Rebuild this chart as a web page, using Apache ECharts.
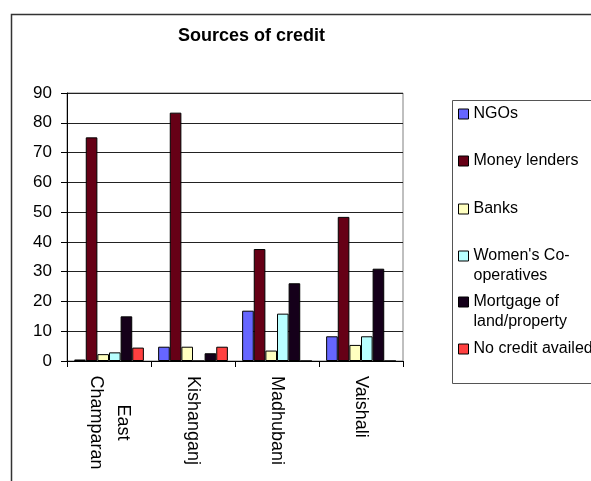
<!DOCTYPE html>
<html>
<head>
<meta charset="utf-8">
<script src="https://cdn.jsdelivr.net/npm/echarts@6/dist/echarts.min.js"></script>
<style>
  html, body { margin: 0; padding: 0; background: #fff; }
  #chart { width: 591px; height: 481px; }
</style>
</head>
<body>
<div id="chart"></div>
<script>
// Districts on the category axis
const categories = ['East Champaran', 'Kishanganj', 'Madhubani', 'Vaishali'];

// Share of households (%) by source of credit
const ngos = [0.5, 4.8, 16.9, 8.3];
const moneyLenders = [75.1, 83.4, 37.6, 48.4];
const banks = [2.3, 4.8, 3.5, 5.4];
const womensCoops = [2.9, 0, 15.9, 8.3];
const mortgage = [15.0, 2.6, 26.1, 31.0];
const noCredit = [4.5, 4.8, 0, 0];

const seriesNames = ['NGOs', 'Money lenders', 'Banks', "Women's Co-operatives", 'Mortgage of land/property', 'No credit availed'];
// Two-line entries get a blank leading line so the icon sits beside the first line of text
const legendLabels = ['NGOs', 'Money lenders', 'Banks', "\nWomen's Co-\noperatives", '\nMortgage of\nland/property', 'No credit availed'];
const seriesData = [ngos, moneyLenders, banks, womensCoops, mortgage, noCredit];
const colors = ['#6666FF', '#660016', '#FFFFC0', '#B8FFFF', '#15001A', '#FF4040'];

const FONT = '"Liberation Sans", Arial, sans-serif';

// One legend block per entry, stacked down the legend box
const legendTops = [104, 151, 199, 226, 272, 339];
const legends = seriesNames.map((name, i) => ({
  data: [name],
  left: 458,
  top: legendTops[i],
  padding: 0,
  orient: 'vertical',
  itemWidth: 10,
  itemHeight: 10,
  icon: 'rect',
  selectedMode: false,
  formatter: () => legendLabels[i],
  itemStyle: { borderColor: '#000', borderWidth: 1 },
  textStyle: {
    fontFamily: FONT,
    fontSize: 16,
    color: '#000',
    lineHeight: 20
  }
}));

const chart = echarts.init(document.getElementById('chart'), null, { renderer: 'canvas' });

chart.setOption({
  backgroundColor: '#fff',
  animation: false,
  title: {
    text: 'Sources of credit',
    left: 178,
    top: 27,
    padding: 0,
    textStyle: { fontFamily: FONT, fontSize: 18, fontWeight: 'bold', color: '#000' }
  },
  legend: legends,
  grid: {
    left: 67,
    top: 93,
    width: 336,
    height: 268,
    show: true,
    borderColor: '#808080',
    borderWidth: 1,
    backgroundColor: 'transparent'
  },
  xAxis: {
    type: 'category',
    data: categories,
    boundaryGap: true,
    axisLine: { lineStyle: { color: '#000', width: 1 } },
    axisTick: { show: true, length: 6, alignWithLabel: false, lineStyle: { color: '#000' } },
    axisLabel: {
      rotate: -90,
      margin: 15,
      interval: 0,
      fontFamily: FONT,
      fontSize: 18,
      color: '#000',
      formatter: (v) => {
        const parts = v.split(' ');
        if (parts.length > 1) {
          return parts.map(p => '{c|' + p + '}').join('\n');
        }
        return v;
      },
      rich: {
        c: { width: 93, align: 'center', fontFamily: FONT, fontSize: 18, color: '#000', lineHeight: 27 }
      }
    }
  },
  yAxis: {
    type: 'value',
    min: 0,
    max: 90,
    interval: 10,
    axisLine: { show: true, lineStyle: { color: '#000', width: 1 } },
    axisTick: { show: true, length: 6, lineStyle: { color: '#000' } },
    axisLabel: { margin: 15, fontFamily: FONT, fontSize: 17, color: '#000' },
    splitLine: { show: true, lineStyle: { color: '#222', width: 1 } }
  },
  series: seriesNames.map((name, i) => ({
    name: name,
    type: 'bar',
    data: seriesData[i],
    barGap: '0%',
    barCategoryGap: '17%',
    itemStyle: { color: colors[i], borderColor: '#000', borderWidth: 1 }
  })),
  graphic: [
    {
      type: 'rect',
      silent: true,
      shape: { x: 11.5, y: 14.5, width: 700, height: 600 },
      style: { fill: 'none', stroke: '#333', lineWidth: 1.5 }
    },
    {
      type: 'rect',
      silent: true,
      z: -1,
      shape: { x: 452.5, y: 100.5, width: 200, height: 283 },
      style: { fill: '#fff', stroke: '#555', lineWidth: 1 }
    }
  ]
});
</script>
</body>
</html>
